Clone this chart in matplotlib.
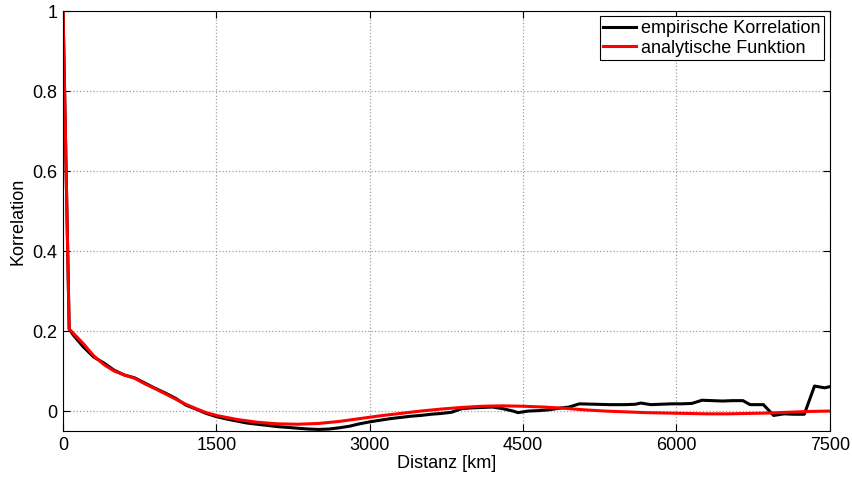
import numpy as np
import matplotlib.pyplot as plt

# empirical correlation (km, value)
emp_x = [0, 60, 100, 200, 300, 400, 500, 600, 700, 800, 900, 1000, 1100, 1200,
         1300, 1400, 1500, 1600, 1700, 1800, 1900, 2000, 2100, 2200, 2300, 2400,
         2500, 2600, 2700, 2800, 2900, 3000, 3100, 3200, 3300, 3400, 3500, 3600,
         3700, 3800, 3900, 4000, 4100, 4200, 4300, 4400, 4450, 4550, 4650, 4750,
         4850, 4950, 5050, 5200, 5350, 5500, 5600, 5650, 5750, 5850, 5950, 6050,
         6150, 6250, 6350, 6450, 6550, 6650, 6720, 6850, 6950, 7050, 7150, 7250,
         7350, 7450, 7500]
emp_y = [1.0, 0.205, 0.19, 0.16, 0.135, 0.12, 0.102, 0.09, 0.083, 0.07, 0.057,
         0.045, 0.032, 0.015, 0.005, -0.006, -0.014, -0.02, -0.025, -0.03, -0.033,
         -0.036, -0.039, -0.041, -0.043, -0.045, -0.046, -0.045, -0.042, -0.038,
         -0.032, -0.027, -0.023, -0.019, -0.016, -0.013, -0.011, -0.008, -0.006,
         -0.003, 0.006, 0.008, 0.009, 0.01, 0.006, 0.0, -0.004, 0.0, 0.001, 0.003,
         0.007, 0.01, 0.018, 0.017, 0.016, 0.016, 0.017, 0.02, 0.016, 0.017, 0.018,
         0.018, 0.019, 0.027, 0.026, 0.025, 0.026, 0.026, 0.016, 0.016, -0.011,
         -0.007, -0.008, -0.008, 0.0625, 0.058, 0.061]

# analytic function
ana_x = [0, 60, 200, 300, 400, 500, 600, 700, 800, 900, 1000, 1100, 1200, 1300,
         1400, 1500, 1700, 1900, 2100, 2300, 2500, 2700, 2900, 3100, 3300, 3500,
         3700, 3900, 4100, 4300, 4500, 4700, 4900, 5100, 5300, 5500, 5700, 5900,
         6100, 6300, 6500, 6700, 6900, 7100, 7300, 7500]
ana_y = [1.0, 0.205, 0.168, 0.138, 0.116, 0.1, 0.09, 0.082, 0.068, 0.056, 0.043,
         0.03, 0.017, 0.006, -0.004, -0.011, -0.021, -0.028, -0.032, -0.033,
         -0.031, -0.026, -0.019, -0.012, -0.006, 0.0, 0.005, 0.009, 0.012, 0.013,
         0.012, 0.01, 0.007, 0.003, 0.0, -0.002, -0.004, -0.005, -0.006, -0.007,
         -0.007, -0.006, -0.005, -0.003, -0.001, 0.0]

plt.rcParams['font.family'] = ['Liberation Sans', 'DejaVu Sans']
plt.rcParams['font.size'] = 13

fig = plt.figure(figsize=(8.52, 4.8), dpi=100)
ax = fig.add_axes([0.074, 0.102, 0.900, 0.875])

ax.plot(emp_x, emp_y, color='k', lw=2.2, label='empirische Korrelation')
ax.plot(ana_x, ana_y, color='#ff0000', lw=2.2, label='analytische Funktion')

ax.set_xlim(0, 7500)
ax.set_ylim(-0.05, 1)
ax.set_xticks([0, 1500, 3000, 4500, 6000, 7500])
ax.set_yticks([0, 0.2, 0.4, 0.6, 0.8, 1])
ax.set_yticklabels(['0', '0.2', '0.4', '0.6', '0.8', '1'])
ax.grid(True, linestyle=':', color='#a0a0a0', lw=0.9)
ax.tick_params(direction='in', top=True, right=True, length=5, pad=4)
ax.set_xlabel('Distanz [km]', labelpad=1)
ax.set_ylabel('Korrelation', labelpad=4)

leg = ax.legend(loc='upper right', fancybox=False, framealpha=1,
                edgecolor='k', handlelength=1.8, handletextpad=0.3,
                borderpad=0.2, labelspacing=0.15, borderaxespad=0.3)
leg.get_frame().set_linewidth(0.8)

fig.savefig('out.png', dpi=100)
